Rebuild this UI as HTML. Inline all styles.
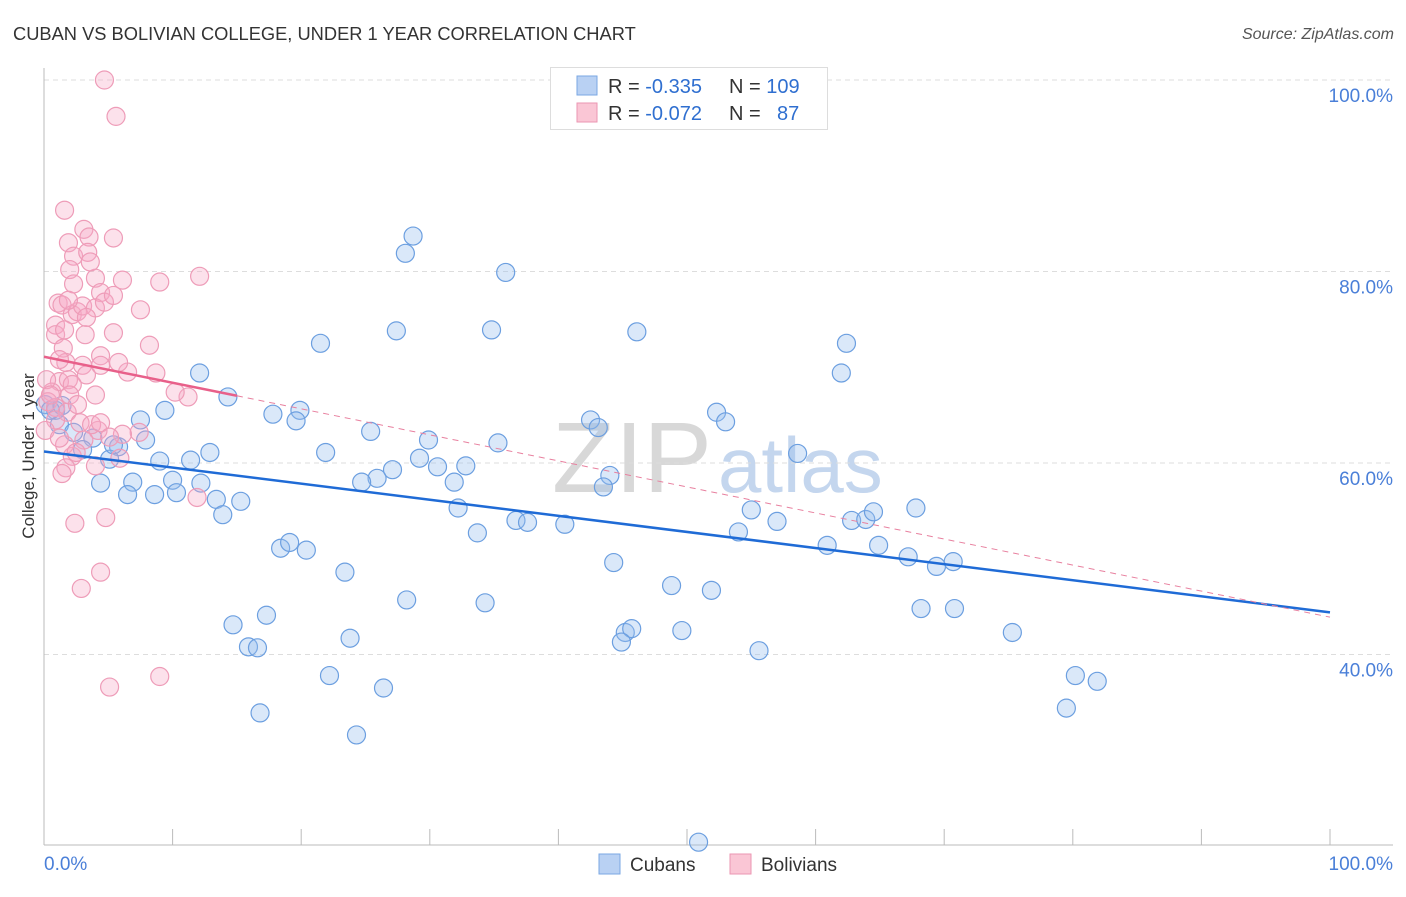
<!DOCTYPE html>
<html><head><meta charset="utf-8">
<style>
body{margin:0;background:#fff;font-family:"Liberation Sans",sans-serif;}
svg text{font-family:"Liberation Sans",sans-serif;}
</style></head>
<body>
<svg id="chart" width="1406" height="892" viewBox="0 0 1406 892" xmlns="http://www.w3.org/2000/svg">
<text x="13" y="40" font-size="18.3" fill="#333">CUBAN VS BOLIVIAN COLLEGE, UNDER 1 YEAR CORRELATION CHART</text>
<text x="1394" y="39" font-size="16" fill="#555" text-anchor="end" font-style="italic">Source: ZipAtlas.com</text>
<g>
<text x="552" y="492" font-size="100" fill="#d8d8d8" font-family="Liberation Serif" textLength="160" lengthAdjust="spacingAndGlyphs">ZIP</text>
<text x="718" y="492" font-size="78" fill="#c4d6ee">atlas</text>
</g>
<g id="grid"></g>
<g id="axes"></g>
<g id="pts"></g>
<g id="lines"></g>
<g>
<rect x="550.5" y="67.5" width="277" height="62" fill="#fff" stroke="#ddd"/>
<rect x="577" y="76" width="20" height="19" fill="#b9d1f3" stroke="#7aa7e3"/>
<rect x="577" y="103" width="20" height="19" fill="#fac6d5" stroke="#eb96b2"/>
<text x="608" y="93" font-size="20" fill="#333">R = <tspan fill="#2f6fd0">-0.335</tspan><tspan x="729">N = </tspan><tspan fill="#2f6fd0">109</tspan></text>
<text x="608" y="120" font-size="20" fill="#333">R = <tspan fill="#2f6fd0">-0.072</tspan><tspan x="729">N = </tspan><tspan x="777" fill="#2f6fd0">87</tspan></text>
</g>
<g>
<rect x="599" y="854" width="21" height="20" fill="#b9d1f3" stroke="#7aa7e3"/>
<text x="630" y="871" font-size="19" fill="#333">Cubans</text>
<rect x="730" y="854" width="21" height="20" fill="#fac6d5" stroke="#eb96b2"/>
<text x="761" y="871" font-size="19" fill="#333">Bolivians</text>
</g>
<text transform="translate(34,456) rotate(-90)" font-size="17" fill="#333" text-anchor="middle">College, Under 1 year</text>
</svg>
<script>
const yTicks=[100,80,60,40];
const yTickLabels=["100.0%","80.0%","60.0%","40.0%"];
const xTickLabels=["0.0%","100.0%"];
const blueX=[28.7,28.1,35.9,27.4,34.8,46.1,21.5,62.4,12.1,62.0,14.3,9.4,17.8,19.9,19.6,52.3,53.0,42.5,43.1,7.5,0.9,1.2,2.3,3.8,5.8,7.9,12.9,35.3,29.9,25.4,21.9,58.6,5.1,9.0,11.4,27.1,30.6,32.8,29.2,44.0,43.5,25.9,24.7,31.9,6.9,10.0,12.2,4.4,6.5,8.6,10.3,13.4,15.3,13.9,32.2,36.7,37.6,40.5,33.7,55.0,57.0,54.0,62.8,63.9,64.5,67.8,60.9,64.9,67.2,69.4,70.7,18.4,19.1,20.4,23.4,44.3,48.8,51.9,28.2,34.3,17.3,14.7,45.2,45.7,44.9,49.6,23.8,15.9,16.6,55.6,68.2,70.8,75.3,22.2,26.4,80.2,81.9,79.5,16.8,24.3,50.9,0.1,0.5,1.4,3.0,5.4];
const blueY=[83.7,81.9,79.9,73.8,73.9,73.7,72.5,72.5,69.4,69.4,66.9,65.5,65.1,65.5,64.4,65.3,64.3,64.5,63.7,64.5,65.5,64.0,63.2,62.6,61.7,62.4,61.1,62.1,62.4,63.3,61.1,61.0,60.4,60.2,60.3,59.3,59.6,59.7,60.5,58.7,57.5,58.4,58.0,58.0,58.0,58.2,57.9,57.9,56.7,56.7,56.9,56.2,56.0,54.6,55.3,54.0,53.8,53.6,52.7,55.1,53.9,52.8,54.0,54.1,54.9,55.3,51.4,51.4,50.2,49.2,49.7,51.1,51.7,50.9,48.6,49.6,47.2,46.7,45.7,45.4,44.1,43.1,42.3,42.7,41.3,42.5,41.7,40.8,40.7,40.4,44.8,44.8,42.3,37.8,36.5,37.8,37.2,34.4,33.9,31.6,20.4,66.1,65.5,66.0,61.4,61.9];
const pinkX=[4.7,5.6,1.6,3.1,3.5,5.4,1.9,2.3,3.4,2.0,2.3,4.0,6.1,9.0,12.1,4.4,1.1,1.4,2.2,2.6,3.0,4.0,7.5,4.7,3.3,0.9,0.9,5.4,1.5,8.2,4.4,3.0,1.7,6.5,5.8,3.3,8.7,1.2,1.9,2.2,0.6,4.0,11.2,0.3,0.9,1.8,4.2,2.8,3.7,7.4,4.4,3.1,2.2,4.0,1.7,1.4,6.1,5.1,0.2,0.5,0.9,1.6,2.5,11.9,4.8,2.4,4.4,2.9,5.1,9.0,3.6,1.6,3.2,4.4,1.2,1.9,5.4,2.0,0.1,5.9,2.6,1.2,10.2];
const pinkY=[100.0,96.2,86.4,84.4,83.6,83.5,83.0,81.6,82.0,80.2,78.7,79.3,79.1,78.9,79.5,77.8,76.7,76.5,75.5,75.8,76.4,76.2,76.0,76.8,75.2,74.4,73.4,73.6,72.0,72.3,71.2,70.2,70.5,69.5,70.5,69.2,69.4,68.5,68.7,68.2,67.4,67.1,66.9,66.4,65.8,65.3,63.4,64.2,64.0,63.2,64.2,62.4,60.7,59.7,59.5,58.9,63.0,62.7,68.7,67.1,64.5,61.9,61.1,56.4,54.3,53.7,48.6,46.9,36.6,37.7,81.0,73.9,73.4,70.2,70.8,77.0,77.5,67.1,63.4,60.5,66.1,62.6,67.4];
const blueTrend=[61.2,44.4];
const pinkTrend=[71.1,43.9];
const pinkSolidEnd=15;

const NS="http://www.w3.org/2000/svg";
const X=v=>44+v*12.86;
const Y=v=>654.5-(v-40)*9.575;
function mk(tag,attrs,parent){const e=document.createElementNS(NS,tag);for(const k in attrs)e.setAttribute(k,attrs[k]);parent.appendChild(e);return e;}
const grid=document.getElementById('grid'),axes=document.getElementById('axes'),pts=document.getElementById('pts'),lines=document.getElementById('lines');
yTicks.forEach((t,i)=>{
  const l=mk('line',{x1:44,x2:1393,y1:Y(t),y2:Y(t),stroke:'#ddd','stroke-dasharray':'5,4'},grid);
  
  
  const tx=mk('text',{x:1393,y:Y(t)+22,'font-size':19,fill:'#4a7fd8','text-anchor':'end'},axes);
  tx.textContent=yTickLabels[i];
  
  
});
mk('line',{x1:44,x2:44,y1:68,y2:845,stroke:'#bbb'},axes);
mk('line',{x1:44,x2:1393,y1:845,y2:845,stroke:'#bbb'},axes);
for(let i=0;i<=10;i++){const t=mk('line',{x1:X(i*10),x2:X(i*10),y1:829,y2:845,stroke:'#bbb'},axes);
  
  }
const xl0=mk('text',{x:44,y:870,'font-size':19,fill:'#4a7fd8'},axes);xl0.textContent=xTickLabels[0];


const xl1=mk('text',{x:1393,y:870,'font-size':19,fill:'#4a7fd8','text-anchor':'end'},axes);xl1.textContent=xTickLabels[1];


blueX.forEach((v,i)=>{const c=mk('circle',{cx:X(v),cy:Y(blueY[i]),r:9,fill:'rgba(150,188,238,0.35)',stroke:'#6c9fe0','stroke-width':1.2},pts);
  
  });
pinkX.forEach((v,i)=>{const c=mk('circle',{cx:X(v),cy:Y(pinkY[i]),r:9,fill:'rgba(247,170,198,0.35)',stroke:'#ee9cb8','stroke-width':1.2},pts);
  
  });
const bl=mk('line',{x1:X(0),y1:Y(blueTrend[0]),x2:X(100),y2:Y(blueTrend[1]),stroke:'#1f6bd6','stroke-width':2.5},lines);


const pAt=v=>pinkTrend[0]+(pinkTrend[1]-pinkTrend[0])*v/100;
const pl=mk('line',{x1:X(0),y1:Y(pinkTrend[0]),x2:X(pinkSolidEnd),y2:Y(pAt(pinkSolidEnd)),stroke:'#e8608a','stroke-width':2.5},lines);


const pd=mk('line',{x1:X(pinkSolidEnd),y1:Y(pAt(pinkSolidEnd)),x2:X(100),y2:Y(pinkTrend[1]),stroke:'#e8809f','stroke-width':1,'stroke-dasharray':'6,5'},lines);


</script>
</body></html>
